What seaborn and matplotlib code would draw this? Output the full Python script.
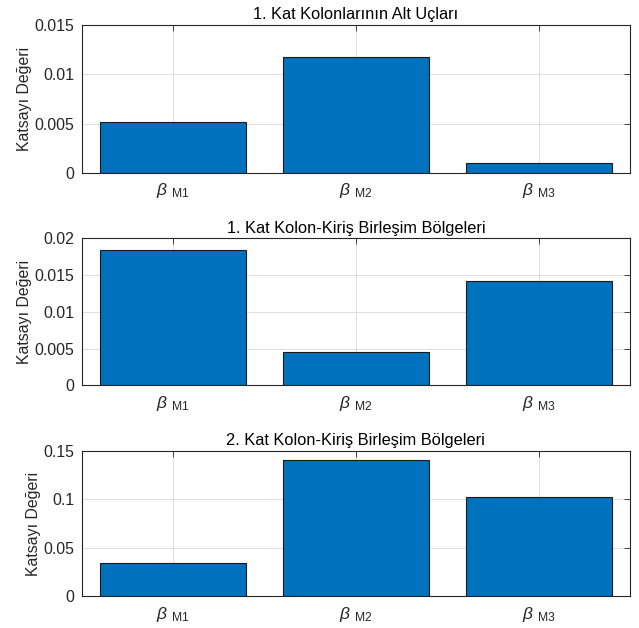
import matplotlib
matplotlib.use("Agg")
import matplotlib.pyplot as plt
import seaborn as sns
import pandas as pd

categories = ["M1", "M2", "M3"]
titles = ["1. Kat Kolonlarının Alt Uçları",
          "1. Kat Kolon-Kiriş Birleşim Bölgeleri",
          "2. Kat Kolon-Kiriş Birleşim Bölgeleri"]
values_1 = [0.0052, 0.0118, 0.0010]
values_2 = [0.01845, 0.00457, 0.01419]
values_3 = [0.0346, 0.1406, 0.1019]
yticks_1 = [0, 0.005, 0.01, 0.015]
yticks_2 = [0, 0.005, 0.01, 0.015, 0.02]
yticks_3 = [0, 0.05, 0.1, 0.15]
ytick_labels_1 = ["0", "0.005", "0.01", "0.015"]
ytick_labels_2 = ["0", "0.005", "0.01", "0.015", "0.02"]
ytick_labels_3 = ["0", "0.05", "0.1", "0.15"]
ylabel = "Katsayı Değeri"

sns.set_style("white")
plt.rcParams['font.family'] = ['Liberation Sans', 'DejaVu Sans']
plt.rcParams['mathtext.fontset'] = 'custom'
plt.rcParams['mathtext.rm'] = 'Liberation Sans'
plt.rcParams['mathtext.it'] = 'Liberation Sans:italic'

fig = plt.figure(figsize=(6.39, 6.28), dpi=100)
positions = [
    [0.128, 0.7245, 0.858, 0.2357],
    [0.128, 0.3865, 0.858, 0.234],
    [0.128, 0.0505, 0.858, 0.232],
]
vals = [values_1, values_2, values_3]
yts = [yticks_1, yticks_2, yticks_3]
ytls = [ytick_labels_1, ytick_labels_2, ytick_labels_3]
dark = (0.15, 0.15, 0.15)

for i in range(3):
    ax = fig.add_axes(positions[i])
    df = pd.DataFrame({"cat": categories, "val": vals[i]})
    sns.barplot(data=df, x="cat", y="val", ax=ax, color="#0072BD",
                saturation=1, width=0.8, edgecolor="#1a1a1a", linewidth=0.8,
                zorder=2)
    ax.set_xlim(-0.5, 2.5)
    ax.set_ylim(yts[i][0], yts[i][-1])
    ax.set_yticks(yts[i])
    ax.set_yticklabels(ytls[i])
    ax.set_xticks([0, 1, 2])
    ax.set_xticklabels([r"$\beta\ _{\mathrm{%s}}$" % c for c in categories])
    ax.set_xlabel("")
    ax.set_ylabel(ylabel, fontsize=11.4, color=dark, labelpad=1.5)
    ax.set_title(titles[i], fontsize=11.8, color="black", pad=4)
    ax.grid(True, color=(0.85, 0.85, 0.85), linewidth=0.6, zorder=0)
    ax.set_axisbelow(True)
    ax.tick_params(direction="in", length=4, width=0.6, colors=dark,
                   labelsize=11.4, top=True, right=True, pad=5.5)
    ax.tick_params(axis="x", labelsize=12.5, pad=6)
    for s in ax.spines.values():
        s.set_color(dark)
        s.set_linewidth(0.8)
        s.set_visible(True)

fig.savefig("out.png", dpi=100, facecolor="white")
